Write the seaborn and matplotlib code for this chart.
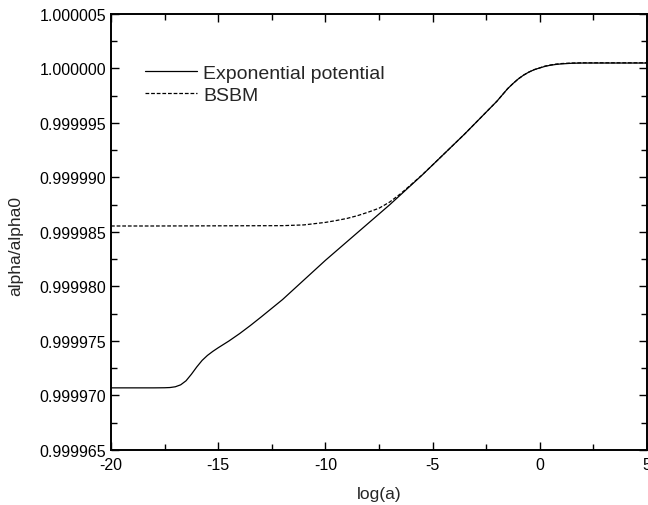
import matplotlib
matplotlib.use("Agg")
import matplotlib.pyplot as plt
import matplotlib.ticker as mticker
import pandas as pd
import seaborn as sns

# Evolution of the fine structure constant, alpha/alpha0, against log(a)
exp_log_a = [-20, -19.5, -19, -18.5, -18, -17.5, -17.25, -17, -16.75, -16.5,
             -16.25, -16, -15.75, -15.5, -15.25, -15, -14.5, -14, -13.5, -13,
             -12.5, -12, -11.5, -11, -10.5, -10, -9.5, -9, -8.5, -8,
             -7.5, -7, -6.5, -6, -5.5, -5, -4.5, -4, -3.5, -3,
             -2.5, -2, -1.5, -1.25, -1, -0.75, -0.5, -0.25, 0, 0.25,
             0.5, 0.75, 1, 1.5, 2, 2.5, 3, 3.5, 4, 4.5, 5]
exp_alpha = [0.99997070, 0.99997070, 0.99997070, 0.99997070, 0.99997070,
             0.99997071, 0.99997073, 0.99997080, 0.99997098, 0.99997135,
             0.99997195, 0.99997262, 0.99997322, 0.99997368, 0.99997405,
             0.99997438, 0.99997500, 0.99997568, 0.99997642, 0.99997720,
             0.99997800, 0.99997880, 0.99997970, 0.99998060, 0.99998150,
             0.99998240, 0.99998325, 0.99998410, 0.99998495, 0.99998580,
             0.99998665, 0.99998750, 0.99998840, 0.99998930, 0.99999020,
             0.99999115, 0.99999210, 0.99999305, 0.99999400, 0.99999500,
             0.99999600, 0.99999700, 0.99999815, 0.99999862, 0.99999905,
             0.99999940, 0.99999968, 0.99999990, 1.00000005, 1.00000020,
             1.00000030, 1.00000037, 1.00000042, 1.00000048, 1.00000050,
             1.00000050, 1.00000050, 1.00000050, 1.00000050, 1.00000050,
             1.00000050]

bsbm_log_a = [-20, -18, -16, -14, -12, -11, -10, -9.5, -9, -8.5,
              -8, -7.5, -7, -6.5, -6, -5.5, -5, -4.5, -4, -3.5,
              -3, -2.5, -2, -1.5, -1.25, -1, -0.75, -0.5, -0.25, 0,
              0.25, 0.5, 0.75, 1, 1.5, 2, 3, 4, 5]
bsbm_alpha = [0.99998555, 0.99998555, 0.99998556, 0.99998557, 0.99998558,
              0.99998565, 0.99998588, 0.99998605, 0.99998624, 0.99998650,
              0.99998682, 0.99998718, 0.99998775, 0.99998850, 0.99998935,
              0.99999022, 0.99999115, 0.99999210, 0.99999305, 0.99999400,
              0.99999500, 0.99999600, 0.99999700, 0.99999815, 0.99999862,
              0.99999905, 0.99999940, 0.99999968, 0.99999990, 1.00000006,
              1.00000022, 1.00000032, 1.00000040, 1.00000045, 1.00000050,
              1.00000052, 1.00000052, 1.00000052, 1.00000052]

x_ticks = [-20, -15, -10, -5, 0, 5]
y_ticks = [0.999965, 0.999970, 0.999975, 0.999980, 0.999985,
           0.999990, 0.999995, 1.000000, 1.000005]

df = pd.concat([
    pd.DataFrame({"log(a)": exp_log_a, "alpha/alpha0": exp_alpha,
                  "model": "Exponential potential"}),
    pd.DataFrame({"log(a)": bsbm_log_a, "alpha/alpha0": bsbm_alpha,
                  "model": "BSBM"}),
], ignore_index=True)

sns.set_style("ticks")
plt.rcParams["font.family"] = ["Liberation Sans", "DejaVu Sans"]
plt.rcParams["axes.unicode_minus"] = False

fig = plt.figure(figsize=(6.48, 5.06), dpi=100)
ax = fig.add_axes([0.1713, 0.1087, 0.8272, 0.8617])

sns.lineplot(data=df, x="log(a)", y="alpha/alpha0", hue="model",
             style="model", palette=["black", "black"],
             dashes={"Exponential potential": "", "BSBM": (3, 1.5)},
             linewidth=0.9, sort=False, estimator=None, ax=ax)

ax.set_xlim(-20, 5)
ax.set_ylim(0.999965, 1.000005)
ax.set_xticks(x_ticks)
ax.set_yticks(y_ticks)
ax.xaxis.set_minor_locator(mticker.MultipleLocator(2.5))
ax.yaxis.set_minor_locator(mticker.MultipleLocator(0.0000025))
ax.yaxis.set_major_formatter(mticker.FormatStrFormatter("%.6f"))
ax.tick_params(which="both", direction="in", top=True, right=True,
               width=1.0, colors="black", labelsize=11.5, pad=3.5)
ax.tick_params(axis="x", which="major", pad=5)
ax.tick_params(which="major", length=6)
ax.tick_params(which="minor", length=4)
for sp in ax.spines.values():
    sp.set_linewidth(1.4)
    sp.set_color("black")

ax.set_xlabel("log(a)", fontsize=12.5, labelpad=10)
ax.set_ylabel("alpha/alpha0", fontsize=12.5)
ax.yaxis.set_label_coords(-0.164, 0.47)

handles, labels = ax.get_legend_handles_labels()
ax.legend(handles, labels, loc="upper left", bbox_to_anchor=(0.063, 0.885),
          frameon=False, fontsize=14, handlelength=2.7, handletextpad=0.3,
          labelspacing=0.25, borderpad=0, borderaxespad=0)

fig.savefig("out.png", dpi=100)
